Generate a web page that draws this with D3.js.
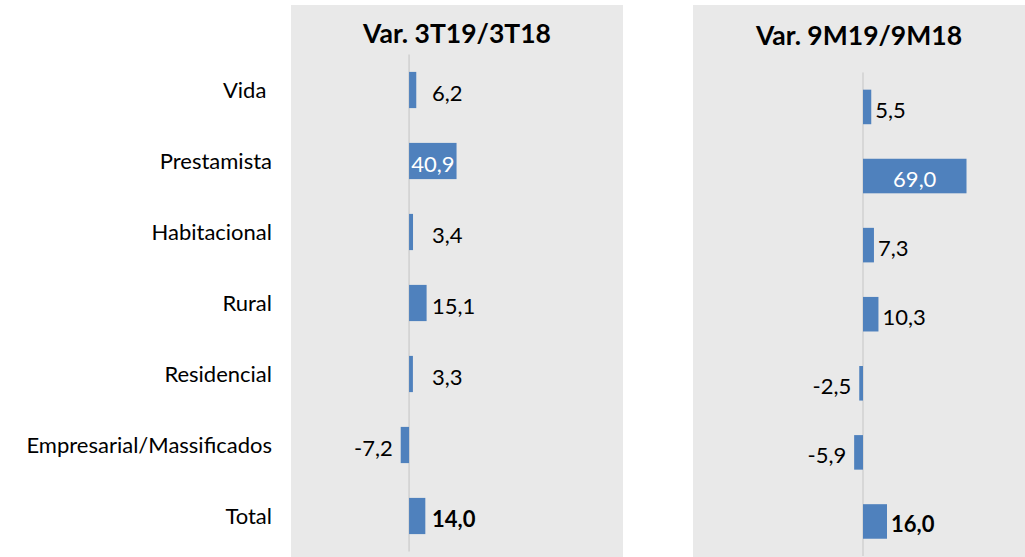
<!DOCTYPE html>
<html>
<head>
<meta charset="utf-8">
<script src="https://cdn.jsdelivr.net/npm/d3@7"></script>
<style>
  body { margin: 0; background: #fff; }
  text { font-family: Lato, "Open Sans", sans-serif; }
</style>
</head>
<body>
<div id="chart"></div>
<script>
'use strict';

var categories = ["Vida ", "Prestamista", "Habitacional", "Rural", "Residencial", "Empresarial/Massificados", "Total"];
var varQuarter = [6.2, 40.9, 3.4, 15.1, 3.3, -7.2, 14.0];
var varNineMonths = [5.5, 69.0, 7.3, 10.3, -2.5, -5.9, 16.0];
var titles = ["Var. 3T19/3T18", "Var. 9M19/9M18"];

var width = 1025;
var height = 557;
var barColor = "#4f81bd";
var fmt = function (v) { return v.toFixed(1).replace(".", ","); };

var svg = d3.select("#chart")
    .append("svg")
    .attr("width", width)
    .attr("height", height);

// one panel per series
var panels = [
    {title: titles[0], values: varQuarter, left: 291, right: 623,
        x: d3.scaleLinear().domain([-100, 180]).range([293, 618]),
        y: d3.scaleBand().domain(categories).range([54.5, 551.5]).paddingInner(0.49).paddingOuter(0.245),
        titleY: 43, minLabel: 23},
    {title: titles[1], values: varNineMonths, left: 693, right: 1025,
        x: d3.scaleLinear().domain([-110, 100]).range([698, 1013]),
        y: d3.scaleBand().domain(categories).range([72.4, 556]).paddingInner(0.5).paddingOuter(0.25),
        titleY: 45, minLabel: 0}
];

panels.forEach(function (p) {
    var g = svg.append("g");

    g.append("rect")
        .attr("x", p.left)
        .attr("y", 5)
        .attr("width", p.right - p.left)
        .attr("height", height - 5)
        .style("fill", "#e9e9e9");

    g.append("text")
        .text(p.title)
        .attr("x", (p.left + p.right) / 2)
        .attr("y", p.titleY)
        .style("font-size", "26.5px")
        .style("font-weight", "bold")
        .style("fill", "#000")
        .style("text-anchor", "middle");

    var yr = p.y.range();
    g.append("line")
        .attr("x1", p.x(0))
        .attr("x2", p.x(0))
        .attr("y1", yr[0])
        .attr("y2", yr[1])
        .style("stroke", "#d0d0d0")
        .style("stroke-width", 1.5);

    var rows = categories.map(function (c, i) {
        return {cat: c, value: p.values[i], total: c === "Total"};
    });

    g.selectAll("rect.bar")
        .data(rows)
        .enter()
        .append("rect")
        .attr("class", "bar")
        .attr("x", function (d) { return Math.min(p.x(0), p.x(d.value)); })
        .attr("y", function (d) { return p.y(d.cat); })
        .attr("width", function (d) { return Math.abs(p.x(d.value) - p.x(0)); })
        .attr("height", p.y.bandwidth())
        .style("fill", barColor);

    g.selectAll("text.value")
        .data(rows)
        .enter()
        .append("text")
        .attr("class", "value")
        .text(function (d) { return fmt(d.value); })
        .attr("x", function (d) {
            if (d.value > 30) return (p.x(0) + p.x(d.value)) / 2;
            if (d.value < 0) return p.x(d.value) - 8;
            return Math.max(p.x(d.value) + 4, p.x(0) + p.minLabel);
        })
        .attr("y", function (d) { return p.y(d.cat) + p.y.bandwidth() / 2 + 3; })
        .attr("dy", "0.35em")
        .style("font-size", "22px")
        .style("font-weight", function (d) { return d.total ? "bold" : "normal"; })
        .style("fill", function (d) { return d.value > 30 ? "#fff" : "#000"; })
        .style("text-anchor", function (d) {
            if (d.value > 30) return "middle";
            return d.value < 0 ? "end" : "start";
        });
});

// category labels, aligned with the first panel rows
var yCat = panels[0].y;
svg.selectAll("text.cat")
    .data(categories)
    .enter()
    .append("text")
    .attr("class", "cat")
    .text(function (d) { return d; })
    .attr("x", 272)
    .attr("y", function (d) { return yCat(d) + yCat.bandwidth() / 2; })
    .attr("dy", "0.35em")
    .style("white-space", "pre")
    .style("font-size", "22px")
    .style("fill", "#000")
    .style("text-anchor", "end");
</script>
</body>
</html>
